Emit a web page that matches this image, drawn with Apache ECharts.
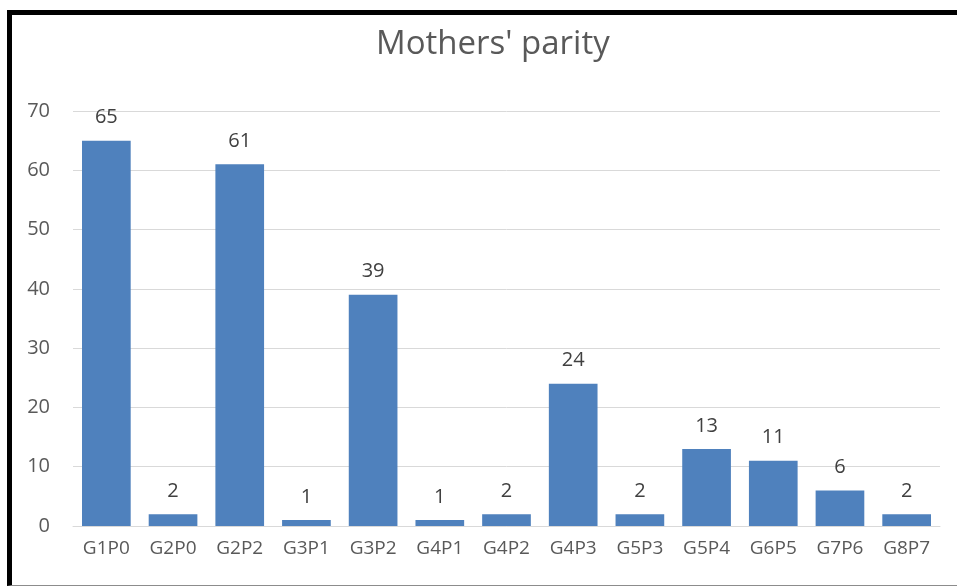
<!DOCTYPE html>
<html>
<head>
<meta charset="utf-8">
<script src="https://cdn.jsdelivr.net/npm/echarts@6/dist/echarts.min.js"></script>
<style>
  html, body { margin: 0; padding: 0; background: #fff; }
  #chart { width: 957px; height: 586px; }
  #frame {
    position: absolute; left: 7px; top: 10px; width: 950px; height: 576px;
    box-sizing: border-box; pointer-events: none;
    border-top: 5px solid #000; border-left: 5px solid #000; border-bottom: 1px solid #8c8c8c;
  }
</style>
</head>
<body>
<div id="chart"></div>
<div id="frame"></div>
<script>
// categories and values
const categories = ['G1P0', 'G2P0', 'G2P2', 'G3P1', 'G3P2', 'G4P1', 'G4P2', 'G4P3', 'G5P3', 'G5P4', 'G6P5', 'G7P6', 'G8P7'];
const counts = [65, 2, 61, 1, 39, 1, 2, 24, 2, 13, 11, 6, 2];

const chart = echarts.init(document.getElementById('chart'));
chart.setOption({
  animation: false,
  title: {
    text: "Mothers' parity",
    left: 371,
    top: 23,
    textStyle: { fontFamily: 'Open Sans', fontSize: 33, fontWeight: 'normal', color: '#595959' }
  },
  grid: { left: 73, right: 17, top: 111, bottom: 60 },
  xAxis: {
    type: 'category',
    data: categories,
    axisLine: { lineStyle: { color: '#d9d9d9', width: 1 } },
    axisTick: { show: false },
    axisLabel: { color: '#595959', fontSize: 19, fontFamily: 'Open Sans', margin: 13 }
  },
  yAxis: {
    type: 'value',
    min: 0,
    max: 70,
    interval: 10,
    axisLine: { show: false },
    axisTick: { show: false },
    splitLine: { lineStyle: { color: '#d9d9d9', width: 1 } },
    axisLabel: { color: '#595959', fontSize: 20, fontFamily: 'Open Sans', margin: 23 }
  },
  series: [{
    type: 'bar',
    data: counts,
    barCategoryGap: '27%',
    itemStyle: { color: '#4f81bd' },
    label: {
      show: true,
      position: 'top',
      distance: 13,
      color: '#404040',
      fontSize: 20,
      fontFamily: 'Open Sans'
    }
  }]
});
</script>
</body>
</html>
